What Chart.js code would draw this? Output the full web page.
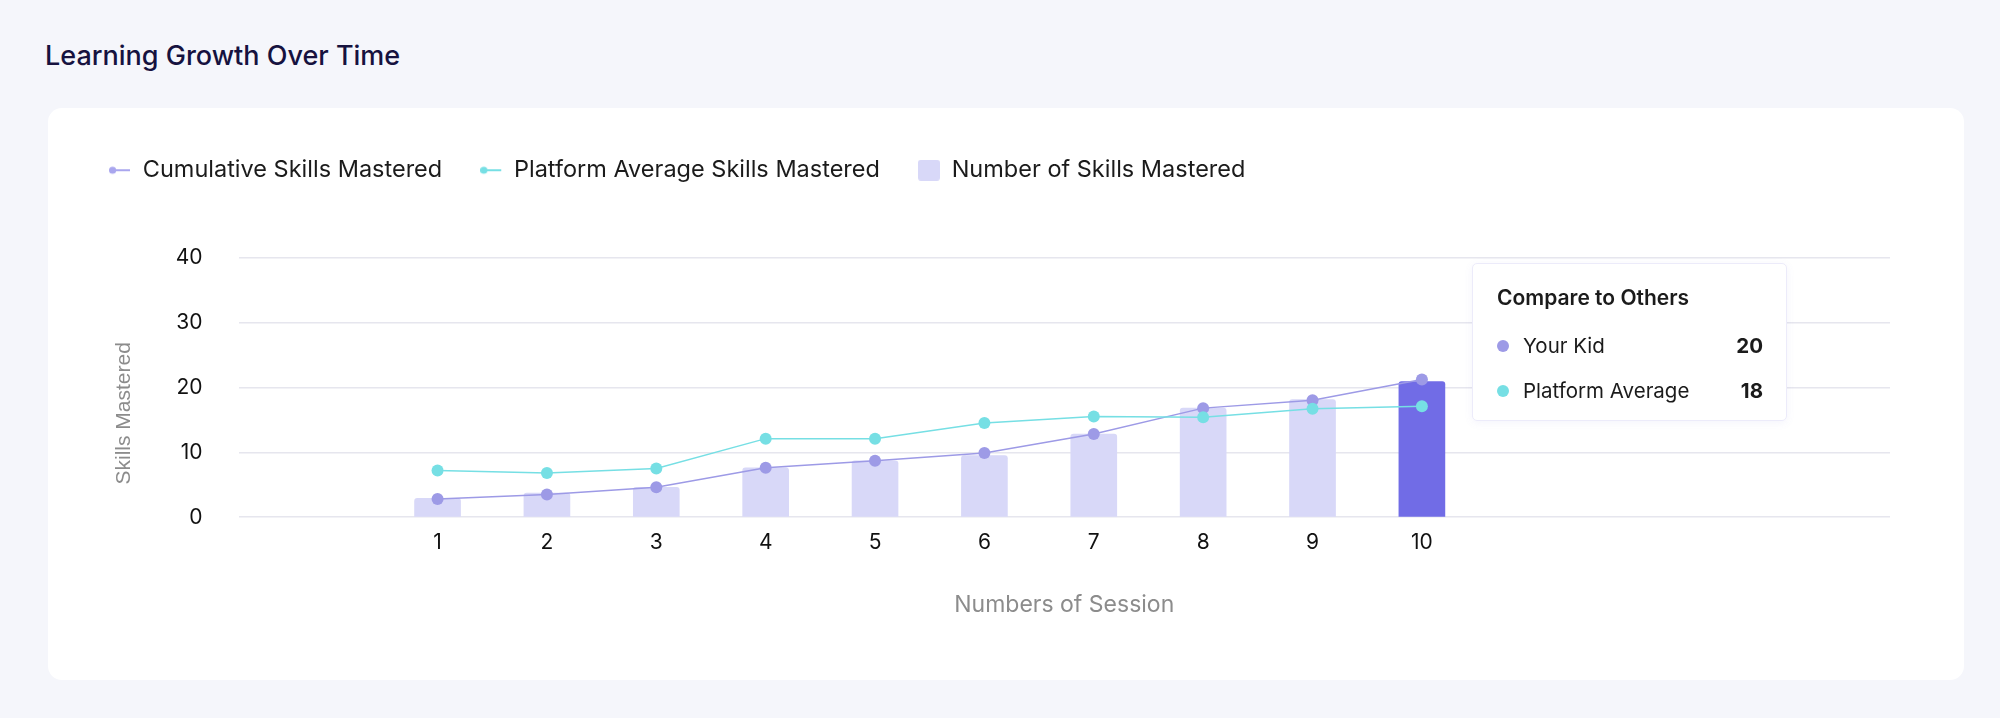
<!DOCTYPE html>
<html>
<head>
<meta charset="utf-8">
<script src="https://cdn.jsdelivr.net/npm/chart.js@4.4.1/dist/chart.umd.min.js"></script>
<style>
    html, body { margin: 0; padding: 0; }
    body {
        width: 2000px;
        height: 718px;
        background: #f5f6fb;
        font-family: Inter, "Noto Sans", sans-serif;
        position: relative;
        overflow: hidden;
    }
    .page-title {
        position: absolute;
        left: 45px;
        top: 39px;
        margin: 0;
        font-size: 27px;
        font-weight: 500;
        color: #16123f;
        line-height: 34px;
    }
    .card {
        position: absolute;
        left: 48px;
        top: 108px;
        width: 1916px;
        height: 572px;
        background: #fff;
        border-radius: 14px;
    }
    .card canvas { position: absolute; left: 0; top: 0; }
    .compare-box {
        position: absolute;
        left: 1424px;
        top: 155px;
        width: 315px;
        height: 158px;
        box-sizing: border-box;
        background: #fff;
        border: 1px solid #ecebfa;
        border-radius: 5px;
        box-shadow: 0 2px 8px rgba(120, 110, 220, 0.08);
        padding: 21px 23px 0 24px;
        color: #1b1b1b;
    }
    .compare-box h4 {
        margin: 0 0 12px 0;
        font-size: 21px;
        font-weight: 600;
        line-height: 26px;
    }
    .compare-row {
        display: flex;
        align-items: center;
        height: 45px;
        font-size: 20.5px;
    }
    .compare-row .dot {
        width: 12px;
        height: 12px;
        border-radius: 50%;
        margin-right: 14px;
    }
    .compare-row .name { flex: 1; }
    .compare-row .val { font-weight: 700; }
</style>
</head>
<body>
<h2 class="page-title">Learning Growth Over Time</h2>
<div class="card">
    <canvas id="growthChart" width="1916" height="572"></canvas>
    <div class="compare-box" id="compareBox"></div>
</div>
<script>
const sessions = [1, 2, 3, 4, 5, 6, 7, 8, 9, 10];
const cumulativeSkills = [2.8, 3.5, 4.6, 7.6, 8.7, 9.9, 12.8, 16.8, 18.0, 21.2];
const platformAverage = [7.2, 6.8, 7.5, 12.1, 12.1, 14.5, 15.5, 15.4, 16.7, 17.1];
const skillsMastered = [2.9, 3.7, 4.6, 7.6, 8.7, 9.5, 12.8, 16.8, 18.1, 20.9];
const yTicks = [0, 10, 20, 30, 40];

const compareLabels = ['Your Kid', 'Platform Average'];
const compareValues = [20, 18];

const purple = '#9d9ae6';
const cyan = '#76dfe4';
const barLight = '#d8d8f8';
const barDark = '#716ce6';

// small legend markers: dot with a tail for lines, rounded box for bars
function lineMarker(color) {
    const c = document.createElement('canvas');
    c.width = 22; c.height = 10;
    const g = c.getContext('2d');
    g.strokeStyle = color;
    g.lineWidth = 2;
    g.beginPath(); g.moveTo(3, 5); g.lineTo(21, 5); g.stroke();
    g.fillStyle = color;
    g.beginPath(); g.arc(3.6, 5, 3.6, 0, Math.PI * 2); g.fill();
    return c;
}
function boxMarker(color) {
    const c = document.createElement('canvas');
    c.width = 22; c.height = 21;
    const g = c.getContext('2d');
    g.fillStyle = color;
    g.beginPath(); g.roundRect(0, 0, 22, 21, 3); g.fill();
    return c;
}
const markers = [lineMarker('#a9a6ee'), lineMarker(cyan), boxMarker(barLight)];

const toPoints = arr => arr.map((v, i) => ({ x: sessions[i], y: v }));

const legendSpace = {
    id: 'legendSpace',
    beforeInit(chart) {
        const fit = chart.legend.fit;
        chart.legend.fit = function () {
            fit.call(this);
            this.height += 65.5;
        };
    }
};

// y axis title sits a bit below the middle of the plot in the original
const yTitle = {
    id: 'yTitle',
    afterDraw(chart) {
        const { ctx, chartArea } = chart;
        ctx.save();
        ctx.translate(76, (chartArea.top + chartArea.bottom) / 2 + 26);
        ctx.rotate(-Math.PI / 2);
        ctx.fillStyle = '#8c8c8c';
        ctx.font = '21px "Liberation Sans", Arial, sans-serif';
        ctx.textAlign = 'center';
        ctx.textBaseline = 'middle';
        ctx.fillText('Skills Mastered', 0, 0);
        ctx.restore();
    }
};

const ctx = document.getElementById('growthChart').getContext('2d');
const growthChart = new Chart(ctx, {
    type: 'bar',
    data: {
        datasets: [{
            type: 'line',
            label: 'Cumulative Skills Mastered',
            data: toPoints(cumulativeSkills),
            borderColor: purple,
            backgroundColor: purple,
            borderWidth: 1.5,
            pointRadius: 6,
            pointHoverRadius: 6,
            pointBorderWidth: 0,
            tension: 0,
            order: 1
        }, {
            type: 'line',
            label: 'Platform Average Skills Mastered',
            data: toPoints(platformAverage),
            borderColor: cyan,
            backgroundColor: cyan,
            borderWidth: 1.5,
            pointRadius: 6,
            pointHoverRadius: 6,
            pointBorderWidth: 0,
            tension: 0,
            order: 0
        }, {
            type: 'bar',
            label: 'Number of Skills Mastered',
            data: toPoints(skillsMastered),
            backgroundColor: skillsMastered.map((v, i) => i === skillsMastered.length - 1 ? barDark : barLight),
            barThickness: 46,
            borderRadius: { topLeft: 3, topRight: 3 },
            borderSkipped: 'bottom',
            order: 2
        }]
    },
    options: {
        responsive: false,
        animation: false,
        layout: {
            padding: { top: 12.5, left: 23, right: 74, bottom: 61 }
        },
        scales: {
            x: {
                type: 'linear',
                min: -0.82,
                max: 14.28,
                offset: false,
                grid: { display: false, drawTicks: false },
                border: { display: false },
                ticks: {
                    stepSize: 1,
                    autoSkip: false,
                    maxRotation: 0,
                    padding: 13,
                    color: '#111',
                    font: { family: 'Inter', size: 21 },
                    callback: v => sessions.includes(v) ? String(v) : null
                },
                title: {
                    display: true,
                    text: 'Numbers of Session',
                    color: '#8c8c8c',
                    font: { family: 'Inter', size: 23 },
                    padding: { top: 23, bottom: 0 }
                }
            },
            y: {
                min: yTicks[0],
                max: yTicks[yTicks.length - 1],
                afterBuildTicks: scale => { scale.ticks = yTicks.map(v => ({ value: v })); },
                afterFit: scale => { scale.width = 167.5; },
                grid: { color: '#e6e6ee', lineWidth: 1.5, drawTicks: false },
                border: { display: false },
                ticks: {
                    padding: 36,
                    color: '#111',
                    font: { family: 'Inter', size: 21 }
                },
                title: { display: false }
            }
        },
        plugins: {
            tooltip: { enabled: false },
            legend: {
                position: 'top',
                align: 'start',
                labels: {
                    usePointStyle: true,
                    boxWidth: 22,
                    boxHeight: 22,
                    padding: 38,
                    color: '#1b1b1b',
                    font: { family: 'Inter', size: 23.5 },
                    generateLabels: chart => chart.data.datasets.map((ds, i) => ({
                        text: ds.label,
                        pointStyle: markers[i],
                        fontColor: '#1b1b1b',
                        lineWidth: 0,
                        hidden: false,
                        datasetIndex: i
                    }))
                }
            }
        }
    },
    plugins: [legendSpace, yTitle]
});

// static comparison box for the last session
const box = document.getElementById('compareBox');
let html = '<h4>Compare to Others</h4>';
compareLabels.forEach((name, i) => {
    html += `<div class="compare-row"><span class="dot" style="background:${i === 0 ? purple : cyan}"></span>` +
        `<span class="name">${name}</span><span class="val">${compareValues[i]}</span></div>`;
});
box.innerHTML = html;
</script>
</body>
</html>
